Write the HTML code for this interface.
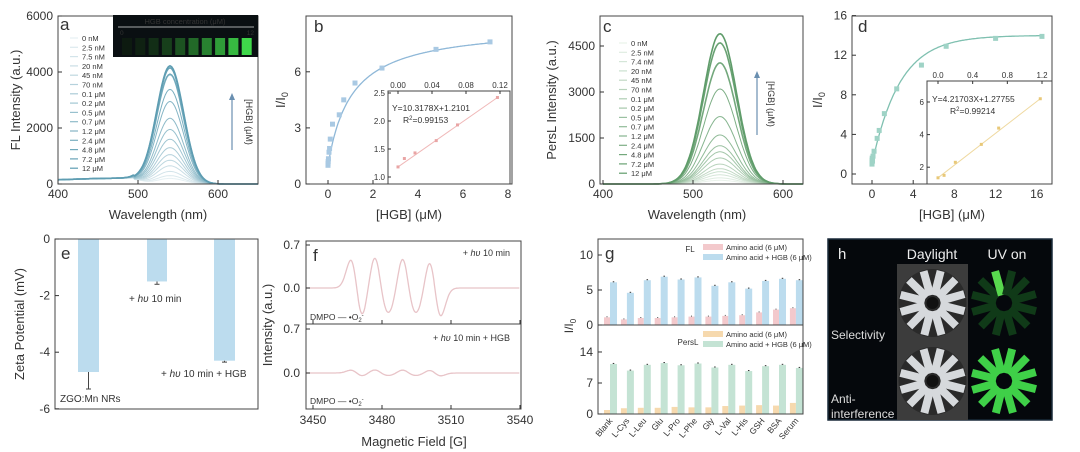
<!DOCTYPE html>
<html><head><meta charset="utf-8">
<style>
html,body{margin:0;padding:0;background:#fff;width:1080px;height:452px;overflow:hidden}
svg{display:block;font-family:"Liberation Sans",sans-serif}
</style></head>
<body>
<div id="wrap"></div>
<script>
let H='';
function sq(v){return v*v}
function ln(x1,y1,x2,y2,c,w,extra){H+=`<line x1="${x1}" y1="${y1}" x2="${x2}" y2="${y2}" stroke="${c||'#333'}" stroke-width="${w||1}" ${extra||''}/>`}
function tx(x,y,t,sz,anc,extra){H+=`<text x="${x}" y="${y}" font-size="${sz}" text-anchor="${anc||'middle'}" fill="#333" ${extra||''}>${t}</text>`}
function rect(x,y,w,h,f,extra){H+=`<rect x="${x}" y="${y}" width="${w}" height="${h}" fill="${f}" ${extra||''}/>`}
function path(pts,c,w){H+=`<path d="M${pts.map(p=>p[0].toFixed(1)+','+p[1].toFixed(1)).join('L')}" fill="none" stroke="${c}" stroke-width="${w||1}"/>`}
function box(x1,y1,x2,y2){rect(x1,y1,x2-x1,y2-y1,'none','stroke="#444" stroke-width="1"')}
function mix(a,b,t){const pa=[parseInt(a.substr(1,2),16),parseInt(a.substr(3,2),16),parseInt(a.substr(5,2),16)],pb=[parseInt(b.substr(1,2),16),parseInt(b.substr(3,2),16),parseInt(b.substr(5,2),16)];return 'rgb('+pa.map((v,i)=>Math.round(v+(pb[i]-v)*t)).join(',')+')'}

// ---------- Panel a ----------
try{const X=w=>58+(w-400)*0.8,Y=v=>184-v/6000*168;
const hs=[200,300,450,650,850,1050,1300,1600,1950,2350,2950,3380,3920,4150,4220];
const labs=['0 nM','2.5 nM','7.5 nM','20 nM','45 nM','70 nM','0.1 μM','0.2 μM','0.5 μM','0.7 μM','1.2 μM','2.4 μM','4.8 μM','7.2 μM','12 μM'];
hs.forEach((h,i)=>{const c=mix('#e6f0f3','#5e9db2',i/14);const p=[];for(let w=400;w<=650;w+=2){let v=h*Math.exp(-sq((w-540)/24))+(w<495?150+60*Math.sin((w-400)/90*Math.PI*0.5):150*Math.exp(-sq((w-495)/15)));p.push([X(w),Y(v)])}path(p,c,i>11?1.6:1);
ln(70,38+i*9.3,78,38+i*9.3,c,1.2);tx(82,41+i*9.3,labs[i],7.5,'start','fill="#555"')});
box(58,16,258,184);
[[400,'400'],[500,'500'],[600,'600']].forEach(([w,l])=>{ln(X(w),184,X(w),180);tx(X(w),198,l,12)});
[0,2000,4000,6000].forEach(v=>{ln(58,Y(v),62,Y(v));tx(53,Y(v)+4,v,12,'end')});
tx(158,219,'Wavelength (nm)',13);tx(20,100,'FL Intensity (a.u.)',13,'middle','transform="rotate(-90 20 100)"');
tx(60,30,'a',17,'start');
rect(113,15,145,42,'#0a0f12');tx(185,24,'HGB concentration (μM)',7.5,'middle','fill="#ccc"');ln(118,27,254,27,'#ddd',0.8);
tx(120,35,'0',6.5,'start','fill="#bbb"');tx(254,35,'12',6.5,'end','fill="#bbb"');
for(let i=0;i<10;i++){rect(122+i*13.3,38,10,17,mix('#0d1a10','#3fd84a',Math.pow(i/9,1.5)))}
ln(232,150,232,96,'#6a8fb0',1.2);H+='<path d="M229,100 L232,93 L235,100Z" fill="#6a8fb0"/>';
tx(246,122,'[HGB] (μM)',9,'middle','fill="#6a8fb0" transform="rotate(90 246 122)"');}catch(e){}

// ---------- Panel b ----------
try{const X=x=>328+x*22.5,Y=v=>184-v*18.7;
box(306,16,512,184);
[0,2,4,6,8].forEach(v=>{ln(X(v),184,X(v),180);tx(X(v),198,v,12)});
[0,3,6].forEach(v=>{ln(306,Y(v),310,Y(v));tx(301,Y(v)+4,v,12,'end')});
tx(409,219,'[HGB] (μM)',13);tx(285,100,'I/I<tspan font-size="9" dy="3">0</tspan>',13,'middle','transform="rotate(-90 285 100)"');
tx(314,32,'b',17,'start');
const p=[];for(let x=0;x<=7.2;x+=0.05)p.push([X(x),Y(1+7.5*x/(x+1.05))]);path(p,'#8fb8d8',1.3);
[[0,1],[0.003,1.1],[0.008,1.2],[0.02,1.35],[0.045,1.7],[0.07,1.9],[0.1,2.4],[0.2,3.2],[0.5,3.7],[0.7,4.5],[1.2,5.4],[2.4,6.2],[4.8,7.2],[7.2,7.6]].forEach(([x,y])=>rect(X(x)-2.5,Y(y)-2.5,5,5,'#a9c9e3'));
const IX=x=>398+x/0.12*102,IY=v=>177-(v-1)*56;
rect(388,91,122,93,'#fff');box(388,91,510,184);
[[0,'0.00'],[0.04,'0.04'],[0.08,'0.08'],[0.12,'0.12']].forEach(([v,l])=>{ln(IX(v),91,IX(v),94);tx(IX(v),88,l,8)});
[[1,'1.0'],[1.5,'1.5'],[2,'2.0'],[2.5,'2.5']].forEach(([v,l])=>{ln(388,IY(v),391,IY(v));tx(385,IY(v)+3,l,8,'end')});
ln(IX(0),IY(1.18),IX(0.117),IY(2.42),'#f0b8b8',1);
[[0,1.18],[0.0075,1.33],[0.02,1.43],[0.045,1.65],[0.07,1.93],[0.117,2.42]].forEach(([x,y])=>rect(IX(x)-1.5,IY(y)-1.5,3,3,'#e9a5a5'));
tx(392,111,'Y=10.3178X+1.2101',8.5,'start');tx(403,123,'R<tspan font-size="6" dy="-3">2</tspan><tspan dy="3">=0.99153</tspan>',8.5,'start');}catch(e){}

// ---------- Panel c ----------
try{const X=w=>603+(w-400)*0.9,Y=v=>184-v/1500*46;
const hs=[120,200,300,400,500,650,850,1050,1250,1600,2200,3100,3950,4600,4900];
const labs=['0 nM','2.5 nM','7.4 nM','20 nM','45 nM','70 nM','0.1 μM','0.2 μM','0.5 μM','0.7 μM','1.2 μM','2.4 μM','4.8 μM','7.2 μM','12 μM'];
hs.forEach((h,i)=>{const c=mix('#e9f2ea','#5f9c6a',i/14);const p=[];for(let w=400;w<=622;w+=1.5){p.push([X(w),Y(h*Math.exp(-sq((w-530)/26)))])}path(p,c,i>11?1.6:1);
ln(619,43+i*9.3,627,43+i*9.3,c,1.2);tx(631,46+i*9.3,labs[i],7.5,'start','fill="#555"')});
box(600,16,803,184);
[[400,'400'],[500,'500'],[600,'600']].forEach(([w,l])=>{ln(X(w),184,X(w),180);tx(X(w),198,l,12)});
[0,1500,3000,4500].forEach(v=>{ln(600,Y(v),604,Y(v));tx(595,Y(v)+4,v,12,'end')});
tx(697,219,'Wavelength (nm)',13);tx(556,100,'PersL Intensity (a.u.)',13,'middle','transform="rotate(-90 556 100)"');
tx(603,32,'c',17,'start');
ln(757,135,757,74,'#6a8fb0',1.2);H+='<path d="M754,78 L757,71 L760,78Z" fill="#6a8fb0"/>';
tx(768,104,'[HGB] (μM)',9,'middle','fill="#6a8fb0" transform="rotate(90 768 104)"');}catch(e){}

// ---------- Panel d ----------
try{const X=x=>872+x*10.3,Y=v=>174-v*9.9;
box(852,16,1052,184);
[0,4,8,12,16].forEach(v=>{ln(X(v),184,X(v),180);tx(X(v),198,v,12)});
[0,4,8,12,16].forEach(v=>{ln(852,Y(v),856,Y(v));tx(847,Y(v)+4,v,12,'end')});
tx(952,219,'[HGB] (μM)',13);tx(822,100,'I/I<tspan font-size="9" dy="3">0</tspan>',13,'middle','transform="rotate(-90 822 100)"');
tx(858,32,'d',17,'start');
const p=[];for(let x=0;x<=16.6;x+=0.1)p.push([X(x),Y(1+13*(1-Math.exp(-x/2.7)))]);path(p,'#7fc0b0',1.3);
[[0,1],[0.003,1.2],[0.008,1.4],[0.02,1.6],[0.05,1.3],[0.1,1.8],[0.2,2.3],[0.5,3.6],[0.7,4.4],[1.2,6.1],[2.4,8.6],[4.8,11],[7.2,12.9],[12,13.7],[16.5,13.9]].forEach(([x,y])=>rect(X(x)-2.5,Y(y)-2.5,5,5,'#9fd3c6'));
const IX=x=>938+x/1.2*104,IY=v=>102+(6-v)*16.3;
rect(927,81,125,103,'#fff');box(927,81,1052,184);
[[0,'0.0'],[0.4,'0.4'],[0.8,'0.8'],[1.2,'1.2']].forEach(([v,l])=>{ln(IX(v),81,IX(v),84);tx(IX(v),78,l,8)});
[2,4,6].forEach(v=>{ln(927,IY(v),930,IY(v));tx(924,IY(v)+3,v,8,'end')});
ln(IX(0),IY(1.35),IX(1.18),IY(6.2),'#efd9a0',1);
[[0,1.35],[0.07,1.5],[0.2,2.3],[0.5,3.4],[0.7,4.4],[1.18,6.2]].forEach(([x,y])=>rect(IX(x)-1.5,IY(y)-1.5,3,3,'#e8c878'));
tx(932,102,'Y=4.21703X+1.27755',8.5,'start');tx(950,114,'R<tspan font-size="6" dy="-3">2</tspan><tspan dy="3">=0.99214</tspan>',8.5,'start');}catch(e){}

// ---------- Panel e ----------
try{const Y=v=>239-v*28.3;
rect(78,239,21,Y(-4.7)-239,'#bcdcee');rect(147,239,20,Y(-1.5)-239,'#bcdcee');rect(214,239,21,Y(-4.3)-239,'#bcdcee');
ln(88.5,Y(-4.7),88.5,Y(-5.3),'#444');ln(86,Y(-5.3),91,Y(-5.3),'#444');
ln(157,Y(-1.5),157,Y(-1.6),'#444');ln(154.5,Y(-1.6),159.5,Y(-1.6),'#444');
ln(224.5,Y(-4.3),224.5,Y(-4.35),'#444');ln(222,Y(-4.35),227,Y(-4.35),'#444');
box(55,239,258,409);
[0,-2,-4,-6].forEach(v=>{ln(55,Y(v),59,Y(v));tx(50,Y(v)+4,v,12,'end')});
tx(24,324,'Zeta Potential (mV)',13,'middle','transform="rotate(-90 24 324)"');
tx(61,259,'e',17,'start');
tx(60,402,'ZGO:Mn NRs',10,'start');
tx(129,302,'+ <tspan font-style="italic">hυ</tspan> 10 min',10,'start');
tx(161,377,'+ <tspan font-style="italic">hυ</tspan> 10 min + HGB',10,'start');}catch(e){}

// ---------- Panel f ----------
try{const X=g=>313+(g-3450)*2.3;
const lines=[[3469,1],[3479,1],[3482.5,0.45],[3491,1],[3494.5,0.45],[3503,1]];
function sig(g){let s=0;lines.forEach(([c,a])=>{const d=(g-c)/2.6;s+=-a*d*Math.exp(-d*d/2)});return s*0.75}
const p1=[],p2=[];for(let g=3447;g<=3540;g+=0.3){p1.push([X(g),288-sig(g)*61]);p2.push([X(g),373-sig(g)*0.1*61])}
path(p1,'#e8c4c8',1.3);path(p2,'#e8c4c8',1.3);
box(306,241,521,409);ln(306,324,521,324,'#444');
[3450,3480,3510,3540].forEach(v=>{ln(X(v),409,X(v),405);ln(X(v),324,X(v),320);tx(X(v),424,v,12)});
[[288,'0.0'],[245,'0.7'],[373,'0.0'],[329,'0.7']].forEach(([y,l])=>{ln(306,y,310,y);tx(300,y+4,l,12,'end')});
tx(414,446,'Magnetic Field [G]',13);tx(272,325,'Intensity (a.u.)',13,'middle','transform="rotate(-90 272 325)"');
tx(313,261,'f',17,'start');
tx(510,256,'+ <tspan font-style="italic">hυ</tspan>  10 min',9,'end');
tx(510,341,'+ <tspan font-style="italic">hυ</tspan>  10 min + HGB',9,'end');
tx(310,320,'DMPO — •O<tspan font-size="6" dy="2">2</tspan><tspan font-size="6" dy="-5">-</tspan>',8.5,'start');
tx(310,404,'DMPO — •O<tspan font-size="6" dy="2">2</tspan><tspan font-size="6" dy="-5">-</tspan>',8.5,'start');}catch(e){}

// ---------- Panel g ----------
try{const names=['Blank','L-Cys','L-Leu','Glu','L-Pro','L-Phe','Gly','L-Val','L-His','GSH','BSA','Serum'];
const fp=[1.1,0.8,1.0,1.0,1.1,1.2,1.2,1.3,1.4,1.8,2.2,2.4],fb=[6.1,4.6,6.4,6.9,6.5,6.8,5.6,6.1,5.2,6.3,6.6,6.4];
const lp=[0.9,1.3,1.4,1.4,1.6,1.5,1.5,1.8,1.9,2.0,1.9,2.5],lg=[11.3,9.8,11.1,11.5,11,11.4,10.5,11.1,9.7,10.8,11.1,10.4];
const U=v=>325-v*7,L=v=>414-v*4.43;
names.forEach((n,i)=>{const x=604+i*16.9;
rect(x,U(fp[i]),6,U(0)-U(fp[i]),'#f3c9cc');rect(x+6,U(fb[i]),7,U(0)-U(fb[i]),'#bcdcee');
rect(x,L(lp[i]),6,L(0)-L(lp[i]),'#f6d9ae');rect(x+6,L(lg[i]),7,L(0)-L(lg[i]),'#c4e3d4');
ln(x+9.5,U(fb[i])-1,x+9.5,U(fb[i]),'#333',1.5);ln(x+9.5,L(lg[i])-1,x+9.5,L(lg[i]),'#333',1.5);ln(x+3,U(fp[i])-1,x+3,U(fp[i]),'#555',1);
tx(0,0,n,8.5,'end',`transform="translate(${x+9},421) rotate(-50)"`)});
box(598,239,803,414);ln(598,325,803,325,'#444');
[0,5,10].forEach(v=>{ln(598,U(v),602,U(v));tx(593,U(v)+4,v,12,'end')});
[0,7,14].forEach(v=>{ln(598,L(v),602,L(v));tx(593,L(v)+4,v,12,'end')});
tx(573,326,'I/I<tspan font-size="8" dy="3">0</tspan>',12,'middle','transform="rotate(-90 573 326)"');
tx(605,259,'g',17,'start');
tx(690,252,'FL',8,'middle');tx(688,345,'PersL',8,'middle');
rect(703,244,20,6,'#f3c9cc');tx(726,250,'Amino acid (6 μM)',7.5,'start');
rect(703,254,20,6,'#bcdcee');tx(726,260,'Amino acid + HGB (6 μM)',7.5,'start');
rect(703,331,20,6,'#f6d9ae');tx(726,337,'Amino acid (6 μM)',7.5,'start');
rect(703,341,20,6,'#c4e3d4');tx(726,347,'Amino acid + HGB (6 μM)',7.5,'start');}catch(e){}

// ---------- Panel h ----------
try{rect(828,239,224,181,'#05080c','stroke="#1a2a3a" stroke-width="1.5"');
H+=`<text x="838" y="259" font-size="15" fill="#eee">h</text><text x="932" y="259" font-size="14" fill="#eee" text-anchor="middle">Daylight</text><text x="1007" y="259" font-size="14" fill="#eee" text-anchor="middle">UV on</text>`;
[[897,264],[897,342]].forEach(([x,y])=>{rect(x,y,71,78,'#3c3c3c');H+=`<circle cx="${x+35.5}" cy="${y+39}" r="34" fill="#2a2a2a"/>`;
for(let k=0;k<12;k++){const a=k*Math.PI/6+0.25;const r1=8,r2=33;const c=x+35.5,d=y+39;
H+=`<line x1="${c+r1*Math.cos(a)}" y1="${d+r1*Math.sin(a)}" x2="${c+r2*Math.cos(a)}" y2="${d+r2*Math.sin(a)}" stroke="#d6d9dc" stroke-width="8"/>`}
H+=`<circle cx="${x+35.5}" cy="${y+39}" r="6" fill="#111"/>`});
[[968,264,0],[968,342,1]].forEach(([x,y,on])=>{const c=x+36,d=y+39;
for(let k=0;k<12;k++){const a=k*Math.PI/6+0.25;const r1=8,r2=33;const col=on?'#3fd048':(k==8?'#58d84e':'#103a18');
H+=`<line x1="${c+r1*Math.cos(a)}" y1="${d+r1*Math.sin(a)}" x2="${c+r2*Math.cos(a)}" y2="${d+r2*Math.sin(a)}" stroke="${col}" stroke-width="8"/>`}});
H+=`<text x="831" y="339" font-size="12" fill="#ddd">Selectivity</text><text x="831" y="403" font-size="12" fill="#ddd">Anti-</text><text x="831" y="418" font-size="12" fill="#ddd">interference</text>`;}catch(e){}

document.getElementById('wrap').innerHTML='<svg width="1080" height="452" viewBox="0 0 1080 452" xmlns="http://www.w3.org/2000/svg">'+H+'</svg>';
</script>
</body></html>
